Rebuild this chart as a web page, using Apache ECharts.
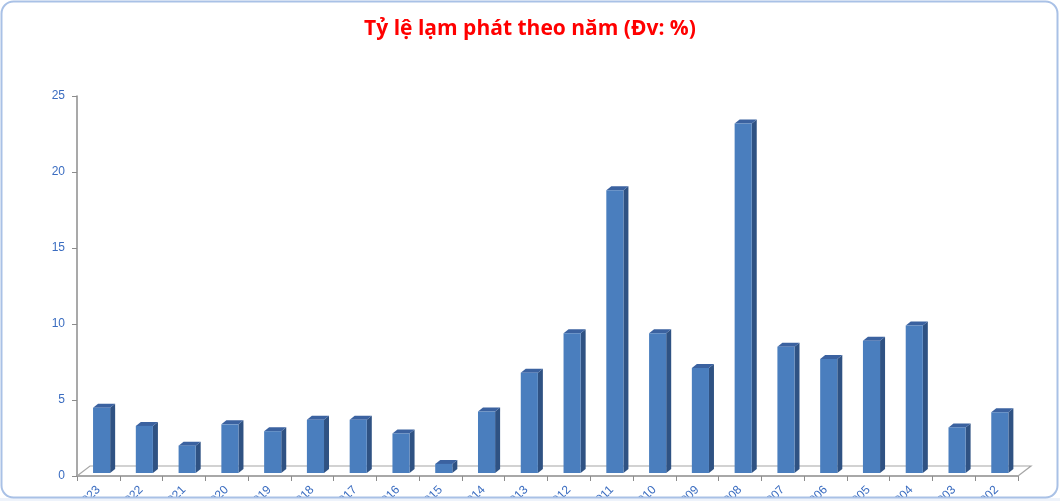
<!DOCTYPE html>
<html>
<head>
<meta charset="utf-8">
<script src="https://cdn.jsdelivr.net/npm/echarts@6/dist/echarts.min.js"></script>
<style>
html,body{margin:0;padding:0;background:#fff;}
#c{width:1060px;height:501px;}
</style>
</head>
<body>
<div id="c"></div>
<script>
const titleText = 'Tỷ lệ lạm phát theo năm (Đv: %)';
const years = ['2023','2022','2021','2020','2019','2018','2017','2016','2015','2014','2013','2012','2011','2010','2009','2008','2007','2006','2005','2004','2003','2002'];
const inflation = [4.3,3.1,1.8,3.2,2.75,3.5,3.5,2.6,0.6,4.05,6.6,9.2,18.6,9.2,6.9,23.0,8.3,7.5,8.7,9.7,3.0,4.0];
const yTicks = {min:0, max:25, interval:5};

const G = {left:77, right:42, top:96, bottom:25};
const W = 1060, H = 501;
const depthX = 13, depthY = 10;
const labelColor = '#3a6cc0';

const chart = echarts.init(document.getElementById('c'), null, {renderer:'canvas'});

function renderBar(params, api){
  const idx = api.value(0);
  const v = api.value(1);
  const base = api.coord([idx, 0]);
  const top = api.coord([idx, v]);
  const band = api.size([1, 0])[0];
  const start = base[0] - band/2;
  const fl = start + band*0.375;
  const fw = band*0.4;
  const by = base[1] - 3;
  const ty = top[1] - 3;
  const sx = 5, sy = 4;
  return {
    type:'group',
    children:[
      {type:'polygon', shape:{points:[[fl+fw,by],[fl+fw+sx,by-sy],[fl+fw+sx,ty-sy],[fl+fw,ty]]}, style:{fill:'#2f5283'}},
      {type:'polygon', shape:{points:[[fl,ty],[fl+sx,ty-sy],[fl+fw+sx,ty-sy],[fl+fw,ty]]}, style:{fill:'#3b62a0'}},
      {type:'rect', shape:{x:fl, y:ty, width:fw, height:by-ty}, style:{fill:'#4a7ebe'}}
    ]
  };
}

const x0 = G.left, x1 = W - G.right, y0 = H - G.bottom;

chart.setOption({
  backgroundColor:'#ffffff',
  animation:false,
  title:{
    text:titleText, left:'center', top:14,
    textStyle:{color:'#ff0000', fontSize:21, fontWeight:'bold', fontFamily:'Liberation Sans Narrow, Open Sans, sans-serif'}
  },
  grid:{left:G.left, right:G.right, top:G.top, bottom:G.bottom, containLabel:false, outerBoundsMode:'none'},
  xAxis:{
    type:'category', data:years, boundaryGap:true,
    axisLine:{show:true, lineStyle:{color:'#8c8c8c', width:1.5}},
    axisTick:{show:true, interval:0, length:5, lineStyle:{color:'#8c8c8c'}},
    axisLabel:{interval:0, rotate:45, color:labelColor, fontSize:12, margin:12, fontFamily:'Liberation Sans, sans-serif'},
    splitLine:{show:false}
  },
  yAxis:{
    type:'value', min:yTicks.min, max:yTicks.max, interval:yTicks.interval,
    axisLine:{show:true, lineStyle:{color:'#8c8c8c', width:1.5}},
    axisTick:{show:true, length:5, lineStyle:{color:'#8c8c8c'}},
    axisLabel:{color:labelColor, fontSize:12, margin:12, fontFamily:'Liberation Sans, sans-serif'},
    splitLine:{show:false}
  },
  series:[{
    type:'custom', renderItem:renderBar, data:inflation.map((v,i)=>[i,v]), z:5,
    encode:{x:0, y:1}
  }],
  graphic:[
    {type:'polyline', z:1, silent:true, shape:{points:[[x0,y0],[x0+depthX,y0-depthY],[x1+depthX,y0-depthY],[x1,y0]]}, style:{stroke:'#a6a6a6', lineWidth:1.2, fill:null}},
    {type:'rect', z:90, silent:true, shape:{x:0, y:498, width:W, height:3}, style:{fill:'#eef3fb'}},
    {type:'rect', z:100, silent:true, shape:{x:1.5, y:1.5, width:W-4, height:496, r:12}, style:{stroke:'#a9c1e6', lineWidth:2, fill:null}}
  ]
});
</script>
</body>
</html>
